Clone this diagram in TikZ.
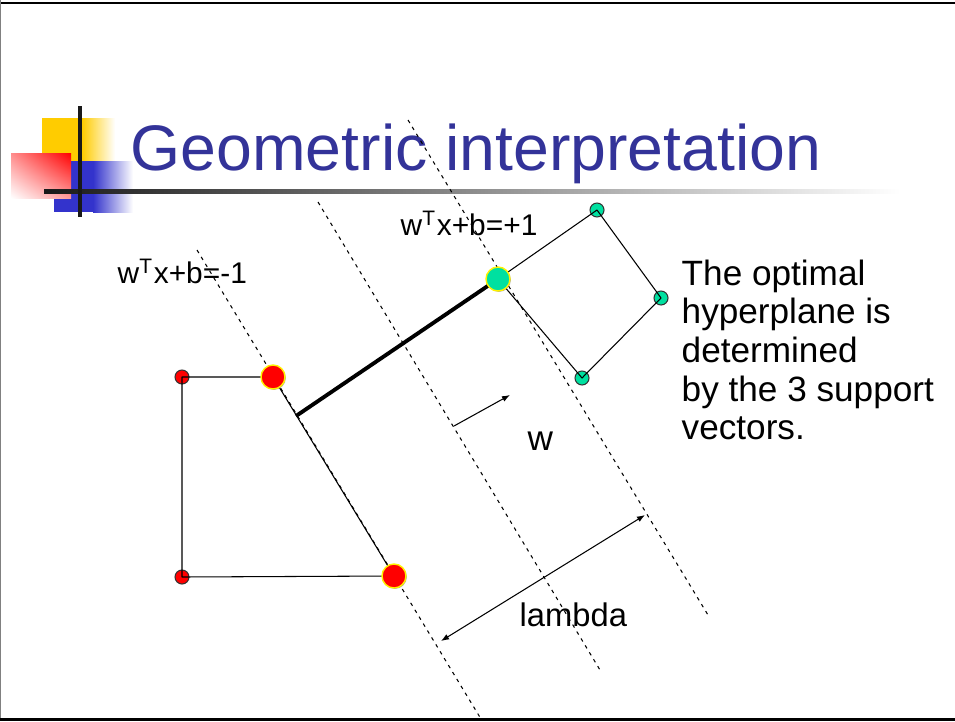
\documentclass[tikz,border=0pt]{standalone}
\usepackage{fontspec}
\setmainfont{Liberation Sans}
\usetikzlibrary{arrows.meta,shadows,shadings}
\definecolor{titleblue}{RGB}{51,51,153}
\definecolor{svgreen}{RGB}{0,224,160}
\definecolor{logoyellow}{RGB}{255,204,0}
\definecolor{logoblue}{RGB}{51,51,204}
\tikzset{
	margin/.style={dash pattern=on 1pt off 1.3pt, line width=0.3pt},
	edge/.style={line width=0.3pt},
	bigsv/.style={circle, draw=yellow, fill=#1, line width=0.4pt, minimum size=0.24cm, inner sep=0pt,
		drop shadow={shadow xshift=0.25pt, shadow yshift=-0.25pt, opacity=0.7}},
	smallsv/.style={circle, draw=black!80, fill=#1, line width=0.3pt, minimum size=0.14cm, inner sep=0pt},
	label/.style={anchor=base west, inner sep=0pt, font=\fontsize{8.5}{10}\selectfont}
}
\begin{document}
\begin{tikzpicture}[x=0.01cm, y=-0.01cm, line join=round, >={Latex[length=0.8mm,width=0.6mm]}, font=\fontsize{10}{11}\selectfont]
	\useasboundingbox (0,0) rectangle (955,721);
	% slide frame
	\draw[line width=0.85pt] (0,3)--(955,3);
	\draw[gray, line width=0.4pt] (0.5,0)--(0.5,721);
	\draw[line width=0.6pt] (0,719.5)--(955,719.5);
	% logo
	\fill[logoyellow] (42,118) rectangle (82,162);
	\shade[left color=logoyellow, right color=white] (82,118) rectangle (115,162);
	\fill[logoblue] (54,161) rectangle (93,212);
	\shade[left color=logoblue, right color=white] (93,161) rectangle (133,212);
	\shade[upper right=red, lower left=white, upper left=red!45, lower right=red!40] (11,153) rectangle (71,198);
	\shade[left color=black!90, right color=white] (44,189) rectangle (900,193);
	\fill[black!90] (78,106) rectangle (82,217);
	\node[anchor=base west, inner sep=0pt, text=titleblue, font=\fontsize{18.3}{20}\selectfont] (title) at (130,170) {Geometric interpretation};
	% points
	\path (182,377) coordinate (R1)
		(182,577) coordinate (R2)
		(273,377) coordinate (R3)
		(394,576) coordinate (R4)
		(498,279) coordinate (G1)
		(597,210) coordinate (G2)
		(661,298) coordinate (G3)
		(582,378) coordinate (G4)
		(197,250) coordinate (L1) (481,719) coordinate (L2)
		(318,202) coordinate (M1) (600,670) coordinate (M2)
		(408,120) coordinate (P1) (708,615) coordinate (P2)
		(296,416) coordinate (T1)
		(454,426) coordinate (W1) (510,395) coordinate (W2)
		(645,515) coordinate (A1) (441,641) coordinate (A2);
	% margins
	\draw[margin] (L1)--(L2);
	\draw[margin] (M1)--(M2);
	\draw[margin] (P1)--(P2);
	% hulls
	\foreach \p/\c in {R1/red,R2/red,G2/svgreen,G3/svgreen,G4/svgreen} \node[smallsv=\c] (n\p) at (\p) {};
	\draw[edge] (R3)--(R1)--(R2)--(R4)--(R3);
	\draw[edge] (G1)--(G2)--(G3)--(G4)--(G1);
	\draw[line width=1.1pt] (T1)--(G1);
	\foreach \p/\c in {R3/red,R4/red,G1/svgreen} \node[bigsv=\c] (n\p) at (\p) {};
	% arrows
	\draw[edge,->] (W1)--(W2);
	\draw[edge,<->] (A1)--(A2);
	% texts
	\node[label] (plus) at (400,235) {w\textsuperscript{T}x+b=+1};
	\node[label] (minus) at (117,283) {w\textsuperscript{T}x+b=-1};
	\node[anchor=base west, inner sep=0pt] (w) at (527,450) {w};
	\node[anchor=base west, inner sep=0pt, font=\fontsize{9.3}{11}\selectfont] (lambda) at (519,626) {lambda};
	\node[anchor=north west, inner sep=0pt, align=left] (note) at (681,259) {The optimal\\hyperplane is\\determined\\by the 3 support\\vectors.};
\end{tikzpicture}
\end{document}
